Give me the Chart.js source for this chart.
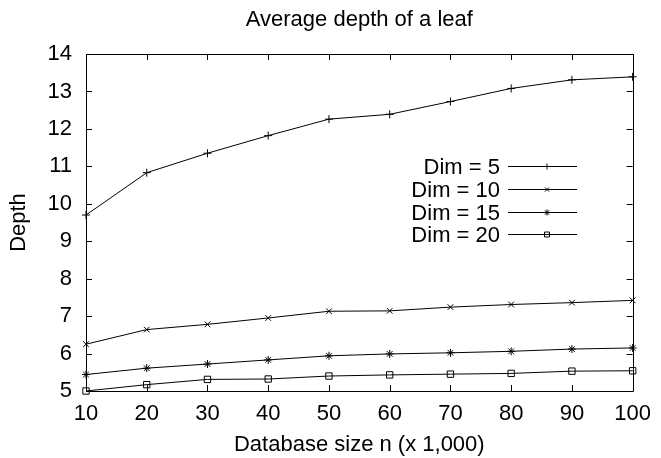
<!DOCTYPE html>
<html>
<head>
<meta charset="utf-8">
<style>
  html, body { margin: 0; padding: 0; background: #fff; }
  #wrap { width: 661px; height: 458px; }
</style>
</head>
<body>
<div id="wrap"><canvas id="myChart"></canvas></div>
<script src="https://cdn.jsdelivr.net/npm/chart.js"></script>
<script>
  // database size (x 1,000)
  const sizes = [10, 20, 30, 40, 50, 60, 70, 80, 90, 100];
  const dim5 = [9.70, 10.83, 11.35, 11.82, 12.26, 12.39, 12.73, 13.08, 13.31, 13.39];
  const dim10 = [6.25, 6.64, 6.78, 6.95, 7.13, 7.14, 7.24, 7.31, 7.36, 7.42];
  const dim15 = [5.44, 5.61, 5.72, 5.83, 5.94, 5.99, 6.02, 6.06, 6.12, 6.15];
  const dim20 = [5.00, 5.17, 5.31, 5.32, 5.40, 5.43, 5.45, 5.47, 5.53, 5.54];
  const seriesNames = ["Dim = 5", "Dim = 10", "Dim = 15", "Dim = 20"];

  const FONT = "'Liberation Sans', Arial, sans-serif";
  const FS = 22;

  function pts(vals) {
    return vals.map((v, i) => ({ x: sizes[i], y: v }));
  }

  function ds(label, vals, style, r) {
    return {
      label: label,
      data: pts(vals),
      borderColor: "#000",
      backgroundColor: "#fff",
      borderWidth: 1,
      pointStyle: style,
      pointRadius: r,
      pointBorderColor: "#000",
      pointBackgroundColor: "rgba(0,0,0,0)",
      pointBorderWidth: 1,
      clip: false,
      tension: 0,
    };
  }

  // gnuplot-like frame with inner ticks on all sides, plus the key
  const framePlugin = {
    id: "frame",
    afterDraw: (chart) => {
      const { ctx, chartArea: a, scales } = chart;
      ctx.save();
      ctx.strokeStyle = "#000";
      ctx.lineWidth = 1;
      ctx.beginPath();
      ctx.rect(Math.round(a.left) + 0.5, Math.round(a.top) + 0.5,
        Math.round(a.right - a.left), Math.round(a.bottom - a.top));
      const tl = 6;
      scales.x.ticks.forEach((t) => {
        const px = Math.round(scales.x.getPixelForValue(t.value)) + 0.5;
        ctx.moveTo(px, a.bottom); ctx.lineTo(px, a.bottom - tl);
        ctx.moveTo(px, a.top); ctx.lineTo(px, a.top + tl);
      });
      scales.y.ticks.forEach((t) => {
        const py = Math.round(scales.y.getPixelForValue(t.value)) + 0.5;
        ctx.moveTo(a.left, py); ctx.lineTo(a.left + tl, py);
        ctx.moveTo(a.right, py); ctx.lineTo(a.right - tl, py);
      });
      ctx.stroke();

      ctx.font = FS + "px " + FONT;
      ctx.textAlign = "right";
      ctx.textBaseline = "middle";
      chart.data.datasets.forEach((d, i) => {
        const y = Math.round(166 + i * 22.8) + 0.5;
        ctx.fillStyle = "#000";
        ctx.fillText(d.label, 500, y + 1);
        ctx.beginPath();
        ctx.moveTo(508, y); ctx.lineTo(577, y);
        ctx.stroke();
        ctx.fillStyle = "rgba(0,0,0,0)";
        Chart.helpers.drawPoint(ctx, {
          pointStyle: d.pointStyle, radius: d.pointRadius - 1, rotation: 0, borderWidth: 1,
        }, 547, y);
      });
      ctx.restore();
    },
  };

  new Chart(document.getElementById("myChart"), {
    type: "line",
    data: {
      datasets: [
        ds(seriesNames[0], dim5, "cross", 4),
        ds(seriesNames[1], dim10, "crossRot", 4),
        ds(seriesNames[2], dim15, "star", 4),
        ds(seriesNames[3], dim20, "rect", 4.5),
      ],
    },
    options: {
      responsive: true,
      maintainAspectRatio: false,
      animation: false,
      events: [],
      layout: { padding: { left: 0, right: 21, top: 0, bottom: 0 } },
      plugins: {
        legend: { display: false },
        tooltip: { enabled: false },
        title: {
          display: true,
          fullSize: false,
          text: "Average depth of a leaf",
          color: "#000",
          font: { family: FONT, size: FS, weight: "normal" },
          padding: { top: 7, bottom: 20.6 },
        },
      },
      scales: {
        x: {
          type: "linear",
          min: 10,
          max: 100,
          afterFit: (s) => { s.height = 67; },
          grid: { display: false, drawTicks: false },
          border: { display: false },
          ticks: {
            stepSize: 10,
            color: "#000",
            padding: 10,
            font: { family: FONT, size: FS },
          },
          title: {
            display: true,
            text: "Database size n (x 1,000)",
            color: "#000",
            font: { family: FONT, size: FS },
            padding: { top: 4, bottom: 0 },
          },
        },
        y: {
          min: 5,
          max: 14,
          afterFit: (s) => { s.width = 86; },
          grid: { display: false, drawTicks: false },
          border: { display: false },
          ticks: {
            stepSize: 1,
            color: "#000",
            padding: 14,
            font: { family: FONT, size: FS },
          },
          title: {
            display: true,
            text: "Depth",
            color: "#000",
            font: { family: FONT, size: FS },
            padding: { top: 6, bottom: 0 },
          },
        },
      },
    },
    plugins: [framePlugin],
  });
</script>
</body>
</html>
